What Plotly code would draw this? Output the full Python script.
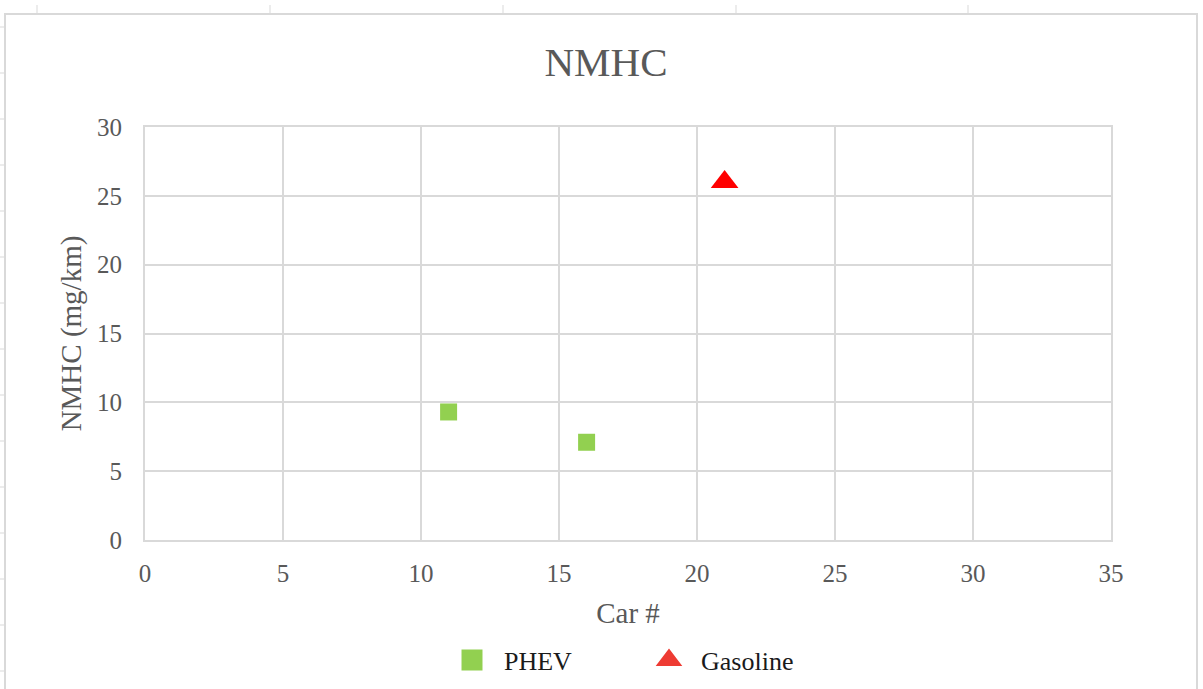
import plotly.graph_objects as go

# Emission results per car
phev_car = [11, 16]
phev_nmhc = [9.3, 7.1]
gas_car = [21]
gas_nmhc = [26.0]

x_ticks = [0, 5, 10, 15, 20, 25, 30, 35]
y_ticks = [0, 5, 10, 15, 20, 25, 30]

SERIF = "Liberation Serif, Times New Roman, serif"
GRID = "#d9d9d9"
TEXT = "#595959"
GREEN = "#92d050"
RED = "#ff0000"

fig = go.Figure()
fig.add_trace(go.Scatter(
    x=phev_car, y=phev_nmhc, mode="markers", name="PHEV", showlegend=False,
    marker=dict(symbol="square", size=17, color=GREEN, line=dict(width=0)),
))
fig.add_trace(go.Scatter(
    x=gas_car, y=gas_nmhc, mode="markers", name="Gasoline", showlegend=False,
    marker=dict(symbol="triangle-up", size=24, color=RED, line=dict(width=0)),
))
# Legend entries with enlarged swatches (outline in fill colour)
fig.add_trace(go.Scatter(
    x=[None], y=[None], mode="markers", name="PHEV",
    marker=dict(symbol="square", size=16, color=GREEN, line=dict(width=5, color=GREEN)),
))
fig.add_trace(go.Scatter(
    x=[None], y=[None], mode="markers", name="Gasoline",
    marker=dict(symbol="triangle-up", size=16, color="#ee3b33",
                line=dict(width=4, color="#ee3b33")),
))

axis_common = dict(
    showgrid=True, gridcolor=GRID, gridwidth=2,
    showline=True, linecolor=GRID, linewidth=2, mirror=True,
    zeroline=False, ticks="outside", tickcolor="rgba(0,0,0,0)",
    automargin=False,
    tickfont=dict(family=SERIF, size=25, color=TEXT),
    title_font=dict(family=SERIF, size=29, color=TEXT),
)

fig.update_xaxes(range=[0, 35], tickvals=x_ticks, title_text="Car #",
                 ticklen=10, title_standoff=17, **axis_common)
fig.update_yaxes(range=[0, 30], tickvals=y_ticks, title_text="NMHC (mg/km)",
                 ticklen=16, title_standoff=7, **axis_common)

# Outer chart frame with the sheet's column/row markers around it
shapes = [dict(type="rect", xref="paper", yref="paper",
               x0=-140 / 966, x1=1052 / 966, y0=-160 / 413, y1=(540 - 14) / 413,
               line=dict(color=GRID, width=2), layer="below")]
for px in [37, 270, 503, 736, 968]:
    xp = (px - 145) / 966
    shapes.append(dict(type="line", xref="paper", yref="paper",
                       x0=xp, x1=xp, y0=(540 - 5) / 413, y1=(540 - 14) / 413,
                       line=dict(color=GRID, width=1)))
for py in range(27, 689, 46):
    yp = (540 - py) / 413
    shapes.append(dict(type="line", xref="paper", yref="paper",
                       x0=-145 / 966, x1=-140 / 966, y0=yp, y1=yp,
                       line=dict(color=GRID, width=1)))

fig.update_layout(
    width=1203, height=689,
    margin=dict(l=145, r=92, t=127, b=149, autoexpand=False),
    paper_bgcolor="white", plot_bgcolor="white",
    title=dict(text="NMHC", x=606 / 1203, xanchor="center",
               y=1 - 62 / 689, yanchor="middle",
               font=dict(family=SERIF, size=41, color=TEXT)),
    showlegend=True,
    legend=dict(orientation="h", x=(440 - 145) / 966, xanchor="left",
                y=(540 - 660) / 413, yanchor="middle",
                font=dict(family=SERIF, size=26, color="#1a1a1a"),
                itemsizing="trace", itemwidth=54,
                entrywidth=128, entrywidthmode="pixels",
                bgcolor="rgba(0,0,0,0)"),
    shapes=shapes,
)

fig.write_html("out.html")
